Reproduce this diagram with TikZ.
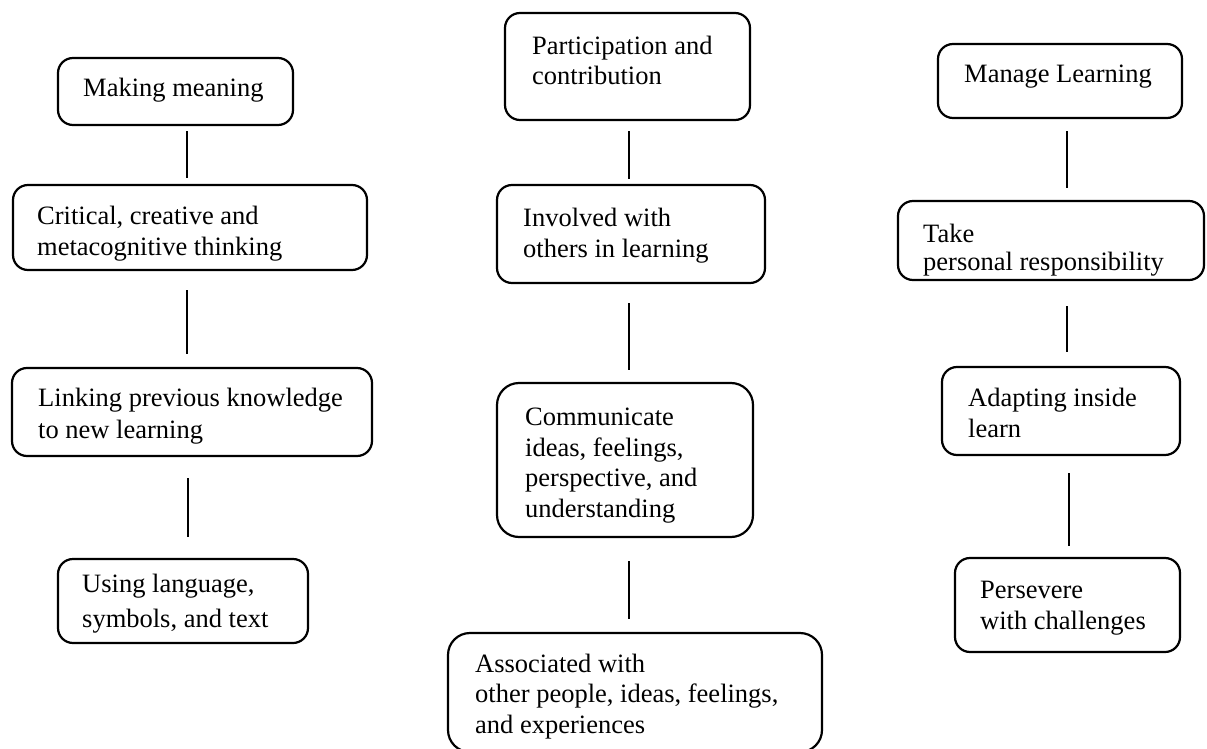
\documentclass[tikz,border=0pt]{standalone}
\usepackage{fontspec}
\setmainfont{Liberation Serif}
\begin{document}
\begin{tikzpicture}[x=1pt,y=-1pt,
  box/.style={draw=black, line width=2.2pt, rounded corners=15pt, inner sep=0pt},
  txt/.style={anchor=base west, align=left, inner sep=0pt, font=\fontsize{26.5}{30.5}\selectfont},
  conn/.style={draw=black, line width=2.2pt}]
\useasboundingbox (0,0) rectangle (1207,749);
\clip (0,0) rectangle (1207,749);
\fill[white] (0,0) rectangle (1207,749);
% column 1
\node[box, minimum width=235pt, minimum height=67pt] (a1) at (175.5,91.5) {};
\node[box, minimum width=354pt, minimum height=85pt] (a2) at (190,227.5) {};
\node[box, minimum width=360pt, minimum height=88pt] (a3) at (192,412) {};
\node[box, minimum width=250pt, minimum height=84pt] (a4) at (183,601) {};
\node[txt] (a1t) at (83,97) {Making meaning};
\node[txt] (a2t) at (37,255) {Critical, creative and\\metacognitive thinking};
\node[txt] (a3t) at (38,438) {Linking previous knowledge\\[1.5pt]to new learning};
\node[txt] (a4t) at (82,627) {Using language,\\[4pt]symbols, and text};
% column 2
\node[box, minimum width=245pt, minimum height=107pt] (b1) at (627.5,66.5) {};
\node[box, minimum width=268pt, minimum height=98pt] (b2) at (631,234) {};
\node[box, rounded corners=22pt, minimum width=256pt, minimum height=154pt] (b3) at (625,460) {};
\node[box, rounded corners=22pt, minimum width=374pt, minimum height=119pt] (b4) at (635,692.5) {};
\node[txt] (b1t) at (532,85) {Participation and\\contribution};
\node[txt] (b2t) at (523,257) {Involved with\\others in learning};
\node[txt] (b3t) at (525,517) {Communicate\\ideas, feelings,\\perspective, and\\understanding};
\node[txt] (b4t) at (475,733) {Associated with\\other people, ideas, feelings,\\and experiences};
% column 3
\node[box, minimum width=244pt, minimum height=74pt] (c1) at (1060,81) {};
\node[box, minimum width=306pt, minimum height=79pt] (c2) at (1051,240.5) {};
\node[box, minimum width=238pt, minimum height=88pt] (c3) at (1061,411) {};
\node[box, minimum width=225pt, minimum height=94pt] (c4) at (1067.5,605) {};
\node[txt] (c1t) at (964,83) {Manage Learning};
\node[txt] (c2t) at (923,270) {Take\\[-2.5pt]personal responsibility};
\node[txt] (c3t) at (968,437) {Adapting inside\\learn};
\node[txt] (c4t) at (980,629) {Persevere\\with challenges};
% connectors
\draw[conn] ([xshift=11.5pt,yshift=-5pt]a1.south) -- ([xshift=-3pt,yshift=6pt]a2.north);
\draw[conn] ([xshift=-3pt,yshift=-19pt]a2.south) -- ([xshift=-5pt,yshift=13pt]a3.north);
\draw[conn] ([xshift=-4pt,yshift=-21pt]a3.south) -- ([xshift=5pt,yshift=21pt]a4.north);
\draw[conn] ([xshift=1.5pt,yshift=-10pt]b1.south) -- ([xshift=-2pt,yshift=5pt]b2.north);
\draw[conn] ([xshift=-2pt,yshift=-19pt]b2.south) -- ([xshift=4pt,yshift=12pt]b3.north);
\draw[conn] ([xshift=4pt,yshift=-23pt]b3.south) -- ([xshift=-6pt,yshift=13pt]b4.north);
\draw[conn] ([xshift=7pt,yshift=-12pt]c1.south) -- ([xshift=16pt,yshift=12pt]c2.north);
\draw[conn] ([xshift=16pt,yshift=-25pt]c2.south) -- ([xshift=6pt,yshift=14pt]c3.north);
\draw[conn] ([xshift=8pt,yshift=-17pt]c3.south) -- ([xshift=1.5pt,yshift=11pt]c4.north);
\end{tikzpicture}
\end{document}
